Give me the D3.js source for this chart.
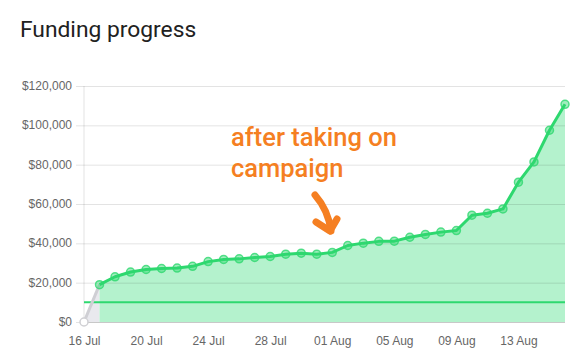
<!DOCTYPE html>
<html>
<head>
<meta charset="utf-8">
<script src="https://cdn.jsdelivr.net/npm/d3@7"></script>
<style>
  html, body { margin: 0; padding: 0; background: #fff; }
  svg { display: block; }
</style>
</head>
<body>
<svg id="chart" width="585" height="358"></svg>
<script>
// ---- data ----
const startDate = "2019-07-16";
const endDate = "2019-08-16";
const values = [0, 19000, 23000, 25400, 26700, 27200, 27400, 28300, 30700, 31800,
  32100, 32800, 33300, 34500, 35000, 34500, 35400, 38900, 40100, 41000,
  41100, 43100, 44500, 45700, 46500, 54300, 55300, 57500, 71100, 81400,
  97500, 110700];
const goal = 10000;
const yTicks = [0, 20000, 40000, 60000, 80000, 100000, 120000];
const xTickLabels = ["2019-07-16", "2019-07-20", "2019-07-24", "2019-07-28",
  "2019-08-01", "2019-08-05", "2019-08-09", "2019-08-13"];
const title = "Funding progress";
const noteLines = ["after taking on", "campaign"];

// ---- build ----
(function () {
const parse = d3.utcParse("%Y-%m-%d");
const dates = d3.utcDay.range(parse(startDate), d3.utcDay.offset(parse(endDate), 1));
const data = dates.map((d, i) => ({ date: d, value: values[i] }));

const svg = d3.select("#chart");
const mL = 84, mR = 565, mT = 86, mB = 322;

const x = d3.scaleUtc().domain([parse(startDate), parse(endDate)]).range([mL, mR]);
const y = d3.scaleLinear().domain([0, 120000]).range([mB, mT]);

svg.append("text")
  .attr("x", 20).attr("y", 37)
  .attr("font-family", "Roboto, sans-serif")
  .attr("font-size", 22.8)
  .attr("fill", "#212121")
  .text(title);

const green = "#2ed86f";
const areaFill = "#b4f2cd";

// gray initial segment area
const first = data.slice(0, 2);
svg.append("path")
  .datum(first)
  .attr("fill", "#e9e9ee")
  .attr("d", d3.area().x(d => x(d.date)).y0(y(0)).y1(d => y(d.value)));

// green area
const rest = data.slice(1);
svg.append("path")
  .datum(rest)
  .attr("fill", areaFill)
  .attr("d", d3.area().x(d => x(d.date)).y0(y(0)).y1(d => y(d.value)));

// grid lines (y)
const gy = svg.append("g").attr("transform", `translate(${mR},0)`);
gy.call(d3.axisLeft(y).tickValues(yTicks).tickSize(mR - mL + 8).tickFormat(""));
gy.select(".domain").remove();
gy.selectAll(".tick line").attr("stroke", "#000").attr("stroke-opacity", 0.11);

// y labels
svg.append("g").selectAll("text")
  .data(yTicks)
  .join("text")
  .attr("x", 72)
  .attr("y", d => y(d) + 4)
  .attr("text-anchor", "end")
  .attr("font-family", "Arial, 'Liberation Sans', sans-serif")
  .attr("font-size", 12)
  .attr("fill", "#666")
  .text(d => "$" + d3.format(",")(d));

// vertical left line
svg.append("line")
  .attr("x1", mL).attr("x2", mL)
  .attr("y1", mT).attr("y2", mB)
  .attr("stroke", "#000").attr("stroke-opacity", 0.11);

// bottom axis line
svg.append("line")
  .attr("x1", mL).attr("x2", mR)
  .attr("y1", mB + 0.5).attr("y2", mB + 0.5)
  .attr("stroke", "#c8c8c8");

// x labels
const xAxis = d3.axisBottom(x)
  .tickValues(xTickLabels.map(parse))
  .tickSize(0)
  .tickPadding(14)
  .tickFormat(d3.utcFormat("%d %b"));
const gx = svg.append("g").attr("transform", `translate(0,${mB})`).call(xAxis);
gx.select(".domain").remove();
gx.selectAll("text")
  .attr("font-family", "Arial, 'Liberation Sans', sans-serif")
  .attr("font-size", 12)
  .attr("fill", "#666");

// goal line
svg.append("line")
  .attr("x1", mL).attr("x2", mR)
  .attr("y1", y(goal)).attr("y2", y(goal))
  .attr("stroke", green).attr("stroke-width", 2);

// gray line segment
svg.append("path")
  .datum(first)
  .attr("fill", "none")
  .attr("stroke", "#cfcfd4")
  .attr("stroke-width", 3)
  .attr("d", d3.line().x(d => x(d.date)).y(d => y(d.value)));

svg.append("circle")
  .attr("cx", x(data[0].date)).attr("cy", y(data[0].value)).attr("r", 4)
  .attr("fill", "#fff").attr("stroke", "#d0d0d4").attr("stroke-width", 1.5);

// green line
svg.append("path")
  .datum(rest)
  .attr("fill", "none")
  .attr("stroke", green)
  .attr("stroke-width", 3)
  .attr("stroke-linejoin", "round")
  .attr("d", d3.line().x(d => x(d.date)).y(d => y(d.value)));

svg.append("g").selectAll("circle")
  .data(rest)
  .join("circle")
  .attr("cx", d => x(d.date))
  .attr("cy", d => y(d.value))
  .attr("r", 4)
  .attr("fill", green).attr("fill-opacity", 0.45)
  .attr("stroke", green).attr("stroke-opacity", 0.8).attr("stroke-width", 1.5);

// annotation
const orange = "#f57f22";
svg.append("g").selectAll("text")
  .data(noteLines)
  .join("text")
  .attr("x", 231)
  .attr("y", (d, i) => 146 + i * 31)
  .attr("font-family", "Roboto, sans-serif")
  .attr("font-weight", 500)
  .attr("font-size", 25.5)
  .attr("fill", orange)
  .text(d => d);

svg.append("path")
  .attr("d", "M315,195 C322,203 329,215 331,231")
  .attr("fill", "none")
  .attr("stroke", orange)
  .attr("stroke-width", 7)
  .attr("stroke-linecap", "round");
svg.append("path")
  .attr("d", "M316,222 L330,231 L337,219")
  .attr("fill", "none")
  .attr("stroke", orange)
  .attr("stroke-width", 7)
  .attr("stroke-linecap", "round")
  .attr("stroke-linejoin", "round");
})();
</script>
</body>
</html>
